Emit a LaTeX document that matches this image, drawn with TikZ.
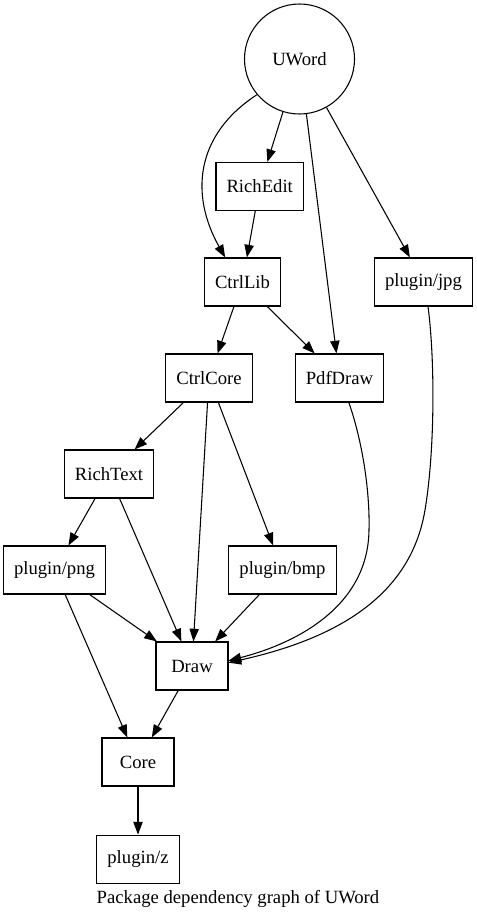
\documentclass[tikz,border=0pt]{standalone}
\usepackage{fontspec}
\setmainfont{Liberation Serif}
\usetikzlibrary{arrows.meta,positioning}

\begin{document}
\begin{tikzpicture}[
  x=0.75pt,y=-0.75pt,
  font=\fontsize{14pt}{16pt}\selectfont,
  pkg/.style={draw,line width=0.8pt,minimum width=54pt,minimum height=36pt,inner xsep=7.9pt},
  arr/.style={-{Triangle[length=9.5pt,width=7pt]},line width=0.8pt}
]
\useasboundingbox (0,0) rectangle (476,921);
\node[draw,circle,line width=0.8pt,minimum size=82.5pt,inner sep=0pt] (uword) at (299.5,59) {UWord};
\node[pkg] (richedit) at (259.7,186.5) {RichEdit};
\node[pkg] (ctrllib)  at (242.5,282) {CtrlLib};
\node[pkg] (jpg)      at (423.5,282) {plugin/jpg};
\node[pkg] (ctrlcore) at (209,378) {CtrlCore};
\node[pkg] (pdfdraw)  at (339.5,378) {PdfDraw};
\node[pkg] (richtext) at (109,474) {RichText};
\node[pkg] (png)      at (54.5,570) {plugin/png};
\node[pkg] (bmp)      at (282.5,570) {plugin/bmp};
\node[pkg] (drawpkg)  at (192,666) {Draw};
\node[pkg] (core)     at (138,762) {Core};
\node[pkg,below=36pt of core] (z) {plugin/z};
\node (caption) at (238,899) {Package dependency graph of UWord};

\draw[arr] (uword) -- (richedit);
\draw[arr] (uword.220) .. controls (195,135) and (190,195) .. ([xshift=-13pt]ctrllib.north);
\draw[arr] (uword) -- (pdfdraw);
\draw[arr] (uword) -- (jpg);
\draw[arr] (richedit) -- (ctrllib);
\draw[arr] (ctrllib) -- (ctrlcore);
\draw[arr] (ctrllib) -- (pdfdraw);
\draw[arr] (ctrlcore) -- (richtext);
\draw[arr] (ctrlcore) -- (drawpkg);
\draw[arr] (ctrlcore) -- (bmp);
\draw[arr] (richtext) -- (png);
\draw[arr] (richtext) -- (drawpkg);
\draw[arr] (png) -- (drawpkg);
\draw[arr] (png) -- (core);
\draw[arr] (bmp) -- (drawpkg);
\draw[arr] ([xshift=7pt]pdfdraw.south) .. controls (362,440) and (370,490) .. (369,530)
  .. controls (368,610) and (290,645) .. ([yshift=4pt]drawpkg.east);
\draw[arr] ([xshift=3.4pt]jpg.south) .. controls (435,360) and (435,450) .. (425,510)
  .. controls (410,600) and (330,640) .. ([yshift=2.5pt]drawpkg.east);
\draw[arr] (drawpkg) -- (core);
\draw[arr] (core) -- (z);
\end{tikzpicture}
\end{document}
